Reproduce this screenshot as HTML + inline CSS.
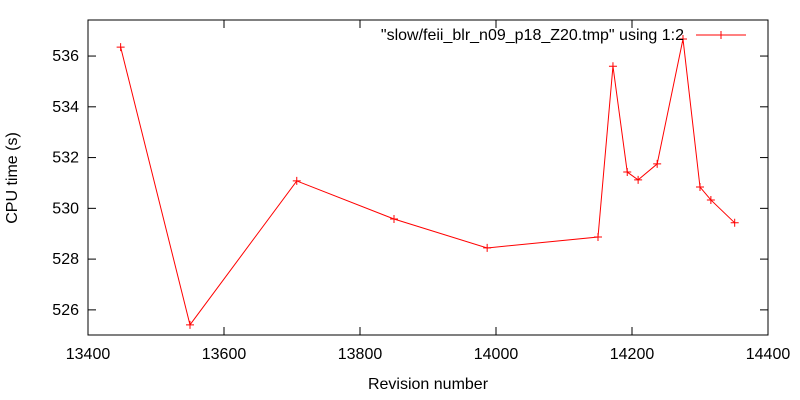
<!DOCTYPE html>
<html><head><meta charset="utf-8"><style>
body{margin:0;background:#fff;}
svg{display:block;font-family:"Liberation Sans",sans-serif;font-size:16px;}
</style></head><body>
<svg id="chart" width="800" height="400">
<g id="axes"></g><g id="series"></g>
</svg>
<script>
const revisions=[13448,13550,13707,13850,13987,14150,14172,14193,14209,14237,14275,14300,14316,14351];
const cpuTimes=[536.35,525.41,531.08,529.58,528.44,528.87,535.6,531.43,531.12,531.75,536.67,530.84,530.33,529.43];
const xTicks=[13400,13600,13800,14000,14200,14400];
const yTicks=[526,528,530,532,534,536];
const L=88,R=768,T=20,B=335;
const xMin=13400,xMax=14400,yMin=525.01,yMax=537.42;
const sx=v=>L+(v-xMin)/(xMax-xMin)*(R-L);
const sy=v=>B-(v-yMin)/(yMax-yMin)*(B-T);
const NS="http://www.w3.org/2000/svg";
function mk(tag,attrs,parent){const e=document.createElementNS(NS,tag);for(const k in attrs)e.setAttribute(k,attrs[k]);parent.appendChild(e);return e;}
const ax=document.getElementById('axes'),se=document.getElementById('series');
const frame=mk('rect',{x:L,y:T,width:R-L,height:B-T,fill:'none',stroke:'#000','stroke-width':1},ax);


xTicks.forEach(v=>{const x=sx(v);
 mk('line',{x1:x,x2:x,y1:B,y2:B-8,stroke:'#000'},ax);
 mk('line',{x1:x,x2:x,y1:T,y2:T+8,stroke:'#000'},ax);
 const t=mk('text',{x:x,y:B+24,'text-anchor':'middle',fill:'#000'},ax);t.textContent=v;
 
 });
yTicks.forEach(v=>{const y=sy(v);
 mk('line',{x1:L,x2:L+8,y1:y,y2:y,stroke:'#000'},ax);
 mk('line',{x1:R,x2:R-8,y1:y,y2:y,stroke:'#000'},ax);
 const t=mk('text',{x:L-9,y:y+5,'text-anchor':'end',fill:'#000'},ax);t.textContent=v;
 
 });
const xt=mk('text',{x:428,y:389,'text-anchor':'middle',fill:'#000'},ax);xt.textContent='Revision number';


const yt=mk('text',{x:17,y:178,'text-anchor':'middle',fill:'#000',transform:'rotate(-90 17 178)'},ax);yt.textContent='CPU time (s)';


const pts=revisions.map((r,i)=>sx(r)+','+sy(cpuTimes[i])).join(' ');
const line=mk('polyline',{points:pts,fill:'none',stroke:'#f00','stroke-width':1},se);


function plus(x,y,p){mk('path',{d:`M${x-4},${y}H${x+4}M${x},${y-4}V${y+4}`,stroke:'#f00','stroke-width':1},p);}
revisions.forEach((r,i)=>{const g=mk('g',{},se);
 
 
 plus(sx(r),sy(cpuTimes[i]),g);});
const lg=mk('g',{},se);


const lt=mk('text',{x:684,y:40,'text-anchor':'end',fill:'#000'},lg);lt.textContent='"slow/feii_blr_n09_p18_Z20.tmp" using 1:2';
mk('line',{x1:696,x2:746,y1:35,y2:35,stroke:'#f00'},lg);
plus(721,35,lg);
</script>
</body></html>
